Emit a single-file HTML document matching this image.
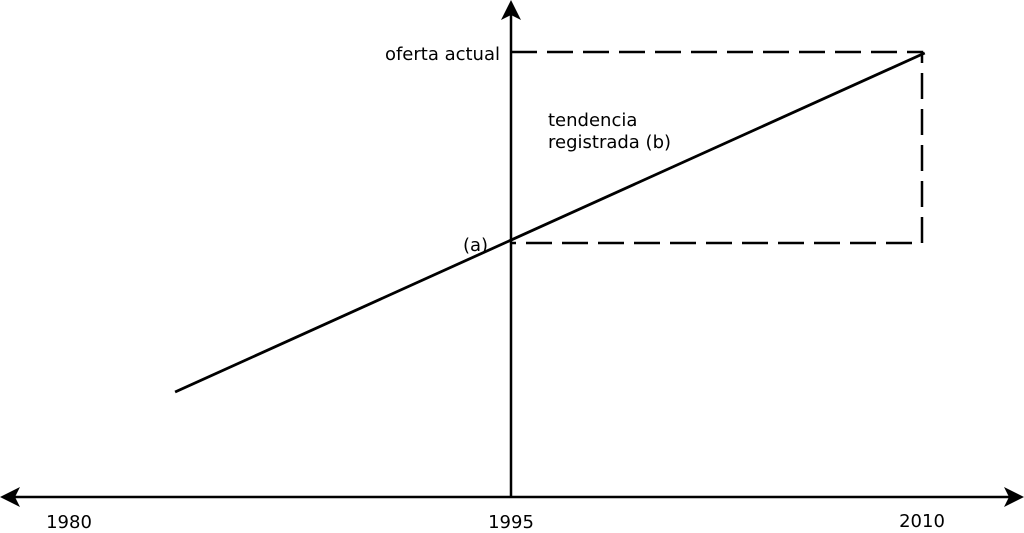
<!DOCTYPE html>
<html><head><meta charset="utf-8"><style>
html,body{margin:0;padding:0;background:#fff;}
svg{display:block;font-family:"DejaVu Sans","Liberation Sans",sans-serif;}
</style></head><body>
<svg id="chart" width="1024" height="533" viewBox="0 0 1024 533">
<defs>
<marker id="arr" viewBox="0 0 20 20" refX="16" refY="10" markerWidth="20" markerHeight="20" markerUnits="userSpaceOnUse" orient="auto">
<path d="M0,0 L20,10 L0,20 L5,10 Z" fill="#000"/>
</marker>
</defs>
</svg>
<script>
const years=[1980,1995,2010];
const tickLabels=["1980","1995","2010"];
const trendYears=[1983.6,2010.1];
const trendValues=[105,444];
const refValueA=254;   // (a) level
const refValueActual=445; // oferta actual level

const NS="http://www.w3.org/2000/svg";
const svg=document.getElementById('chart');
const xDom=[1980,1995,2010], xRng=[69,511,922];
function x(v){let i=v<=xDom[1]?0:1;return xRng[i]+(v-xDom[i])*(xRng[i+1]-xRng[i])/(xDom[i+1]-xDom[i]);}
function y(v){return 497-v;}
function el(t,a){const e=document.createElementNS(NS,t);for(const k in a)e.setAttribute(k,a[k]);svg.appendChild(e);return e;}

let e=el('line',{x1:511,y1:497,x2:1020,y2:497,stroke:'#000','stroke-width':2.5,'marker-end':'url(#arr)'});


e=el('line',{x1:511,y1:497,x2:4,y2:497,stroke:'#000','stroke-width':2.5,'marker-end':'url(#arr)'});


e=el('line',{x1:x(1995),y1:497,x2:x(1995),y2:4,stroke:'#000','stroke-width':2.5,'marker-end':'url(#arr)'});



const x0=x(1995), x1=x(2010), ya=y(refValueA), yt=y(refValueActual);
e=el('polyline',{points:`${x0},${yt} ${x1},${yt} ${x1},${ya} ${x0},${ya}`,fill:'none',stroke:'#000','stroke-width':2.5,'stroke-dasharray':'26,10'});



e=el('line',{x1:x(trendYears[0]),y1:y(trendValues[0]),x2:x(trendYears[1]),y2:y(trendValues[1]),stroke:'#000','stroke-width':2.8});



years.forEach((yr,i)=>{
  const t=el('text',{x:x(yr),y:i==2?527:528,'text-anchor':'middle','font-size':18});
  t.textContent=tickLabels[i];
  
  
});
function label(txt,ax,ay,anchor,name){const t=el('text',{x:ax,y:ay,'text-anchor':anchor,'font-size':18});t.textContent=txt;

}
label('oferta actual',500,60,'end','oferta-actual-label');
label('(a)',463,251,'start','point-a-label');
label('tendencia',548,126,'start','trend-label-line1');
label('registrada (b)',548,148,'start','trend-label-line2');
</script>
</body></html>
